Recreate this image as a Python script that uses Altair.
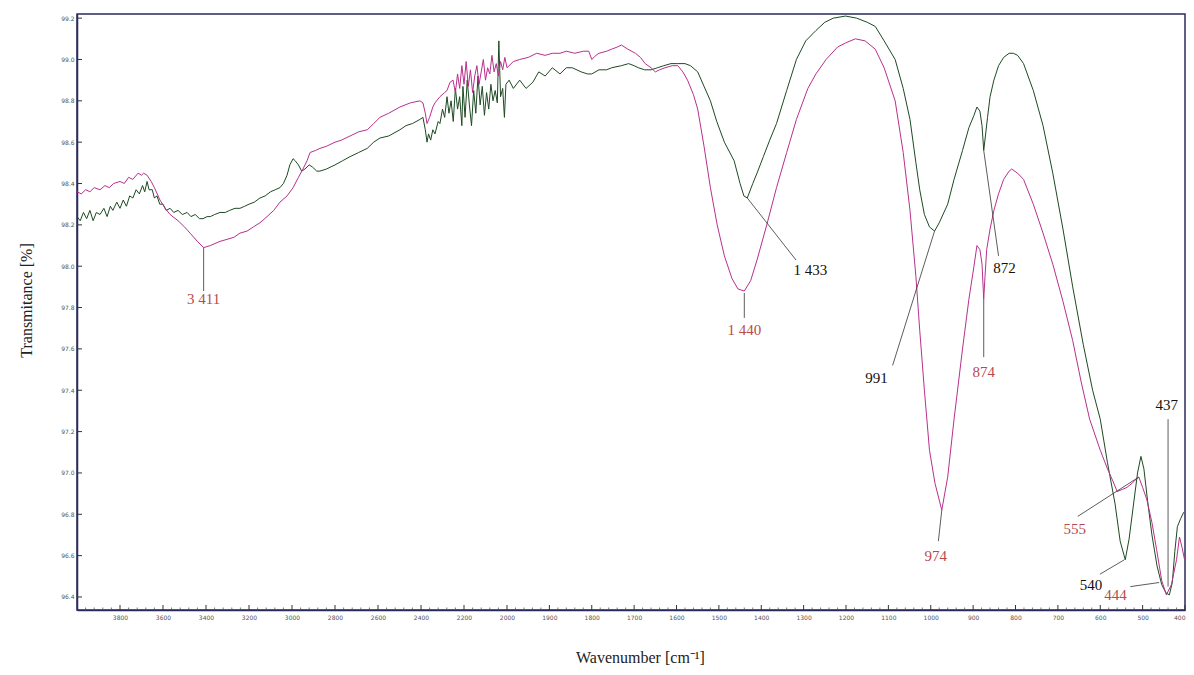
import altair as alt
import pandas as pd

# ---- spectrum B (magenta) ----
wn_b = [4000,3980,3960,3940,3920,3893,3870,3850,3830,3800,3780,3760,3740,3716,3700,3690,3674,3655,3640,3614,
        3590,3567,3530,3500,3474,3440,3411,3380,3335,3302,3270,3242,3209,3180,3149,3116,3085,3056,3023,2995,
        2970,2949,2930,2916,2890,2870,2840,2800,2770,2730,2690,2650,2620,2591,2550,2498,2450,2405,2391,2380,
        2372,2360,2345,2335,2312,2290,2279,2265,2251,2240,2230,2220,2210,2200,2190,2180,2170,2160,2150,2140,
        2130,2120,2110,2100,2090,2080,2070,2060,2050,2040,2030,2020,2010,2000,1985,1970,1950,1930,1910,1893,
        1875,1860,1840,1820,1807,1800,1790,1783,1765,1753,1740,1730,1715,1697,1685,1674,1660,1650,1640,1627,
        1610,1597,1585,1574,1560,1550,1535,1520,1504,1487,1469,1455,1440,1425,1410,1387,1364,1340,1317,1290,
        1271,1247,1220,1201,1178,1155,1131,1110,1084,1065,1049,1035,1026,1015,1003,990,974,960,945,925,
        910,898,891,884,879,875,872,868,860,851,840,828,815,809,795,781,758,735,712,688,
        665,645,625,600,583,570,560,548,537,525,515,509,500,490,478,467,455,444,432,420,
        413,407,401]
t_b = [98.36,98.35,98.37,98.36,98.38,98.37,98.39,98.38,98.40,98.41,98.40,98.43,98.42,98.45,98.44,98.45,98.44,98.41,98.38,98.32,
       98.28,98.25,98.22,98.19,98.16,98.12,98.09,98.10,98.12,98.13,98.14,98.16,98.17,98.19,98.21,98.24,98.27,98.31,98.34,98.38,
       98.43,98.47,98.51,98.55,98.56,98.57,98.58,98.60,98.61,98.63,98.65,98.66,98.69,98.72,98.74,98.77,98.79,98.80,98.79,98.74,
       98.69,98.72,98.77,98.79,98.82,98.84,98.85,98.89,98.90,98.84,98.93,98.86,98.97,98.88,98.99,98.87,98.95,98.84,98.92,98.97,
       98.88,98.94,99.00,98.90,98.96,98.93,99.02,98.94,98.98,98.92,98.99,98.95,99.01,98.96,98.99,99.00,99.01,99.03,99.02,99.03,
       99.03,99.04,99.03,99.04,99.04,99.00,99.02,99.03,99.04,99.05,99.06,99.07,99.05,99.03,99.01,98.98,98.96,98.94,98.95,98.96,
       98.97,98.97,98.94,98.90,98.83,98.76,98.58,98.38,98.20,98.05,97.94,97.89,97.88,97.93,98.03,98.20,98.38,98.55,98.71,98.86,
       98.93,99.00,99.06,99.08,99.10,99.09,99.05,98.96,98.80,98.55,98.27,97.95,97.69,97.40,97.11,96.95,96.82,96.98,97.26,97.60,
       97.84,98.00,98.10,98.08,98.01,97.84,97.95,98.08,98.18,98.27,98.35,98.42,98.46,98.47,98.45,98.42,98.30,98.16,98.01,97.83,
       97.64,97.44,97.26,97.11,97.02,96.96,96.91,96.92,96.93,96.95,96.97,96.98,96.93,96.87,96.76,96.63,96.48,96.41,96.46,96.58,
       96.69,96.64,96.58]

# ---- spectrum A (dark green) ----
wn_a = [4000,3985,3970,3955,3940,3925,3910,3893,3875,3860,3845,3833,3815,3800,3785,3770,3755,3740,3725,3710,
        3695,3685,3674,3665,3650,3640,3628,3615,3600,3585,3567,3550,3530,3510,3488,3470,3450,3430,3414,3395,
        3380,3360,3335,3310,3290,3265,3242,3220,3200,3175,3149,3125,3100,3078,3056,3040,3023,3010,2995,2985,
        2970,2955,2940,2920,2905,2885,2870,2840,2800,2765,2730,2690,2650,2620,2591,2550,2498,2470,2440,2405,
        2391,2380,2372,2365,2355,2345,2335,2320,2312,2300,2290,2279,2270,2260,2250,2240,2230,2220,2210,2205,
        2195,2185,2175,2165,2155,2145,2135,2125,2115,2105,2095,2085,2075,2065,2055,2045,2038,2030,2020,2012,
        2005,1995,1985,1970,1955,1939,1925,1910,1893,1875,1860,1846,1825,1810,1800,1783,1765,1753,1730,1713,
        1700,1690,1675,1660,1645,1630,1613,1597,1580,1567,1550,1535,1520,1505,1487,1464,1450,1441,1433,1420,
        1410,1395,1380,1364,1340,1317,1295,1271,1250,1230,1201,1175,1150,1131,1110,1084,1065,1049,1035,1026,
        1015,1003,991,980,960,945,925,910,898,891,884,879,875,871,866,860,851,840,828,815,
        805,795,781,758,735,712,688,665,640,618,600,583,565,553,541,532,522,512,504,497,
        488,478,466,455,445,437,430,424,418,410,403]
t_a = [98.24,98.22,98.26,98.23,98.27,98.22,98.26,98.25,98.28,98.24,98.29,98.27,98.31,98.28,98.32,98.29,98.34,98.33,98.37,98.35,
       98.39,98.36,98.41,98.37,98.37,98.33,98.34,98.30,98.30,98.27,98.28,98.26,98.27,98.25,98.26,98.24,98.25,98.23,98.23,98.24,
       98.24,98.25,98.26,98.26,98.27,98.28,98.28,98.29,98.30,98.31,98.33,98.34,98.36,98.37,98.38,98.40,98.44,98.49,98.52,98.51,
       98.49,98.46,98.47,98.49,98.48,98.46,98.46,98.47,98.49,98.51,98.53,98.55,98.57,98.60,98.62,98.63,98.66,98.68,98.69,98.71,
       98.72,98.66,98.60,98.64,98.61,98.66,98.64,98.70,98.69,98.76,98.72,98.82,98.74,98.80,98.70,98.86,98.76,98.82,98.68,98.87,
       98.72,98.90,98.78,98.68,98.85,98.74,98.92,98.78,98.87,98.73,98.84,98.76,98.88,98.80,98.85,98.79,99.09,98.82,98.86,98.72,
       98.88,98.90,98.86,98.90,98.86,98.89,98.94,98.92,98.96,98.93,98.96,98.96,98.94,98.93,98.93,98.95,98.95,98.96,98.97,98.98,
       98.97,98.96,98.95,98.95,98.96,98.97,98.98,98.98,98.98,98.97,98.94,98.87,98.80,98.70,98.60,98.51,98.40,98.34,98.33,98.40,
       98.45,98.53,98.61,98.69,98.85,99.00,99.09,99.14,99.18,99.20,99.21,99.20,99.18,99.16,99.09,99.00,98.86,98.71,98.50,98.37,
       98.25,98.19,98.17,98.21,98.30,98.42,98.56,98.67,98.73,98.77,98.75,98.68,98.56,98.63,98.72,98.82,98.90,98.97,99.01,99.03,
       99.03,99.02,98.98,98.85,98.68,98.45,98.18,97.90,97.62,97.40,97.26,97.05,96.85,96.67,96.58,96.68,96.84,97.00,97.08,97.02,
       96.86,96.70,96.55,96.46,96.42,96.41,96.47,96.62,96.74,96.78,96.81]

# ---- peak annotations ----
lab_text = ["3 411", "1 440", "1 433", "991", "974", "872", "874", "555", "540", "444", "437"]
lab_wn   = [3411, 1440, 1284, 1128, 988, 826, 875, 660, 622, 564, 443]
lab_t    = [97.84, 97.69, 97.98, 97.46, 96.60, 97.99, 97.49, 96.73, 96.46, 96.41, 97.33]
lab_col  = ["#b84a4a", "#b84a4a", "#111111", "#111111", "#b84a4a", "#111111", "#b84a4a",
            "#b84a4a", "#111111", "#b84a4a", "#111111"]

lead_wn1 = [3411, 1440, 1433, 1090, 974, 875, 875, 653, 601, 529, 440]
lead_t1  = [98.09, 97.87, 98.33, 97.52, 96.82, 98.56, 97.84, 96.79, 96.51, 96.45, 97.26]
lead_wn2 = [3411, 1440, 1318, 991, 982, 840, 875, 509, 543, 461, 440]
lead_t2  = [97.88, 97.75, 98.03, 98.17, 96.67, 98.05, 97.56, 96.98, 96.58, 96.47, 96.45]

x_major = [3800, 3600, 3400, 3200, 3000, 2800, 2600, 2400, 2200, 2000,
           1900, 1800, 1700, 1600, 1500, 1400, 1300, 1200, 1100, 1000, 900, 800, 700, 600, 500, 400]
x_minor = [v for v in range(3960, 2000, -40) if v % 200 != 0] + [v for v in range(1980, 400, -20) if v % 100 != 0]
y_ticks = [96.4, 96.6, 96.8, 97.0, 97.2, 97.4, 97.6, 97.8, 98.0, 98.2, 98.4, 98.6, 98.8, 99.0, 99.2]

W, H = 1108, 596
FRAME = "#2b2b5a"

spec = pd.concat([
    pd.DataFrame({"wn": wn_a, "T": t_a, "series": "A", "idx": range(len(wn_a))}),
    pd.DataFrame({"wn": wn_b, "T": t_b, "series": "B", "idx": range(len(wn_b))}),
])
labels = pd.DataFrame({"wn": lab_wn, "T": lab_t, "text": lab_text, "col": lab_col})
leaders = pd.DataFrame({"wn": lead_wn1, "T": lead_t1, "wn2": lead_wn2, "T2": lead_t2})
xmaj = pd.DataFrame({"wn": x_major})
xmin = pd.DataFrame({"wn": x_minor})
yt = pd.DataFrame({"T": y_ticks})

xs = alt.Scale(domain=[4000, 2000, 400], range=[0, 430, W], nice=False, zero=False)
ys = alt.Scale(domain=[96.337, 99.22], nice=False, zero=False)

x_axis = alt.Axis(values=x_major, format="d", ticks=False, grid=False, labelFontSize=6,
                  labelColor="#555555", labelPadding=4, labelFont="DejaVu Sans",
                  title="Wavenumber  [cm\u207b\u00b9]", titleFont="Liberation Serif", titleFontSize=16,
                  titleFontWeight="normal", titleColor="#222222", titleX=563, titleY=47,
                  titleBaseline="middle", titleAlign="center", domainColor=FRAME, domainWidth=1.5)
y_axis = alt.Axis(values=y_ticks, format=".1f", ticks=False, grid=False, labelFontSize=6,
                  labelColor="#555555", labelPadding=3, labelFont="DejaVu Sans",
                  title="Transmitance [%]", titleFont="Liberation Serif", titleFontSize=16,
                  titleFontWeight="normal", titleColor="#222222", titleX=-51, titleY=286,
                  titleAngle=-90, titleBaseline="middle", titleAlign="center",
                  domainColor=FRAME, domainWidth=1.5)

lines = alt.Chart(spec).mark_line(strokeWidth=1, clip=True).encode(
    x=alt.X("wn:Q", scale=xs, axis=x_axis),
    y=alt.Y("T:Q", scale=ys, axis=y_axis),
    color=alt.Color("series:N", scale=alt.Scale(domain=["A", "B"], range=["#1d4a22", "#b8308c"]), legend=None),
    detail="series:N",
    order="idx:Q",
)

lead = alt.Chart(leaders).mark_rule(strokeWidth=0.8, color="#333333").encode(
    x=alt.X("wn:Q", scale=xs), y=alt.Y("T:Q", scale=ys), x2="wn2:Q", y2="T2:Q")

txt = alt.Chart(labels).mark_text(font="Liberation Serif", fontSize=15, baseline="middle", align="center").encode(
    x=alt.X("wn:Q", scale=xs), y=alt.Y("T:Q", scale=ys), text="text:N",
    color=alt.Color("col:N", scale=None))

tmaj = alt.Chart(xmaj).mark_rule(color="#333333", strokeWidth=1).encode(
    x=alt.X("wn:Q", scale=xs), y=alt.value(H), y2=alt.value(H - 5))
tmin = alt.Chart(xmin).mark_rule(color="#555555", strokeWidth=0.8).encode(
    x=alt.X("wn:Q", scale=xs), y=alt.value(H), y2=alt.value(H - 2.5))
ytk = alt.Chart(yt).mark_rule(color="#333333", strokeWidth=1).encode(
    y=alt.Y("T:Q", scale=ys), x=alt.value(0), x2=alt.value(5))

chart = alt.layer(tmin, tmaj, ytk, lines, lead, txt).properties(
    width=W, height=H,
    autosize=alt.AutoSizeParams(type="none"),
    padding={"left": 69, "top": 6, "right": 1, "bottom": 57},
    background="white",
).configure_view(stroke=FRAME, strokeWidth=1.5)

chart.save("out.html", embed_options={"renderer": "svg", "actions": False})
